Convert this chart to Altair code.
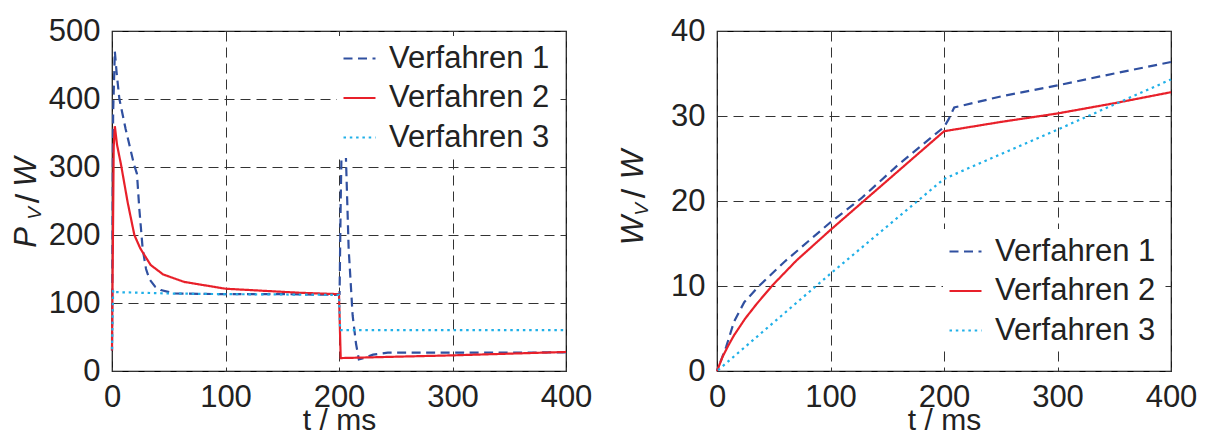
import altair as alt
import pandas as pd

FONT = "Liberation Sans"
NAMES = ["Verfahren 1", "Verfahren 2", "Verfahren 3"]
COLORS = ["#3050a0", "#e8202a", "#20b0e8"]
DASHES = [[9, 5.5], [1, 0], [2.5, 3.8]]

# ---- left panel: P_V / W over t / ms ----
t1 = [0, 1, 2.5, 4, 6.5, 12, 19.5, 22, 24, 27, 30, 33, 38, 43, 55, 100, 150, 199.5,
      200.5, 201.5, 202.5, 203.5, 205, 206, 208.5, 212, 215, 217.5, 222, 230, 243, 300, 350, 400]
p1 = [30, 380, 470, 440, 400, 356, 303, 290, 240, 180, 150, 135, 124, 119, 114, 113, 113, 112,
      113, 250, 350, 372, 370, 320, 180, 82, 40, 17, 19, 24, 27, 27, 27, 27.5]
t2 = [0, 1.5, 2.5, 4.4, 8, 13.8, 19.7, 25, 34, 45, 63.6, 100, 166, 200, 201.5, 250, 300, 350, 400]
p2 = [30, 330, 360, 333, 303, 248, 200, 180, 156, 142, 131, 121, 115, 113, 19, 21, 23, 25.5, 28]
t3 = [0, 1, 3, 50, 100, 200, 201, 400]
p3 = [30, 119, 116, 114, 113, 112, 60, 60]

# ---- right panel: W_V / W over t / ms ----
tw1 = [0, 8, 15, 24, 37, 59, 100, 127, 160, 200, 204, 209, 250, 300, 350, 400]
w1 = [0, 2.8, 5.8, 8.1, 10, 12.8, 17.5, 20.3, 24.3, 28.7, 29.6, 31.0, 32.3, 33.6, 35.0, 36.35]
tw2 = [0, 5, 10, 15, 25, 35, 49, 70, 100, 150, 200, 202, 250, 300, 350, 400]
w2 = [0, 1.7, 3.0, 4.2, 6.2, 7.9, 10.1, 13.0, 16.6, 22.4, 28.2, 28.25, 29.3, 30.3, 31.5, 32.8]
tw3 = [0, 100, 200, 300, 400]
w3 = [0, 11.45, 22.6, 28.4, 34.3]

X_TICKS = [0, 100, 200, 300, 400]
P_TICKS = [0, 100, 200, 300, 400, 500]
W_TICKS = [0, 10, 20, 30, 40]


def long_df(series):
    rows = []
    for name, ts, vs in series:
        for i, (t, v) in enumerate(zip(ts, vs)):
            rows.append({"t": t, "v": v, "s": name, "i": i})
    return pd.DataFrame(rows)


df_p = long_df([(NAMES[0], t1, p1), (NAMES[1], t2, p2), (NAMES[2], t3, p3)])
df_w = long_df([(NAMES[0], tw1, w1), (NAMES[1], tw2, w2), (NAMES[2], tw3, w3)])


def legend(lx, ly):
    return alt.Legend(orient="none", legendX=lx, legendY=ly, title=None,
                      fillColor="white", padding=5, labelFont=FONT, labelFontSize=31,
                      labelColor="#222", symbolType="stroke", symbolSize=1024,
                      symbolStrokeWidth=2.2, rowPadding=6.5, labelOffset=12,
                      labelLimit=400)


def title_text(txt, x, y, size, italic=True):
    return alt.Chart(pd.DataFrame({"a": [0]})).mark_text(
        angle=270, align="center", baseline="alphabetic", font=FONT,
        fontSize=size, fontStyle="italic" if italic else "normal", color="#222"
    ).encode(x=alt.value(x), y=alt.value(y), text=alt.value(txt))


AXIS_STYLE = dict(labelFont=FONT, labelFontSize=31, labelColor="#222",
                  titleFont=FONT, titleFontSize=30, titleFontWeight="normal",
                  titleColor="#222", grid=True, gridColor="#333", gridDash=[10, 6],
                  gridWidth=1, gridOpacity=1, domain=False, ticks=False,
                  labelOverlap=False, labelFlush=False)


def panel(df, ymax, yticks, lx, ly, title_parts):
    lines = alt.Chart(df).mark_line(strokeWidth=2.2, strokeDashOffset=5).encode(
        x=alt.X("t:Q", scale=alt.Scale(domain=[0, 400], nice=False, zero=False),
                axis=alt.Axis(values=X_TICKS, title="t / ms", labelPadding=11,
                              titlePadding=-7, format="d", **AXIS_STYLE)),
        y=alt.Y("v:Q", scale=alt.Scale(domain=[0, ymax], nice=False),
                axis=alt.Axis(values=yticks, title=None, labelPadding=12, format="d",
                              **AXIS_STYLE)),
        color=alt.Color("s:N", scale=alt.Scale(domain=NAMES, range=COLORS),
                        legend=legend(lx, ly)),
        strokeDash=alt.StrokeDash("s:N", scale=alt.Scale(domain=NAMES, range=DASHES),
                                  legend=legend(lx, ly)),
        order="i:Q",
    )
    texts = [title_text(*p) for p in title_parts]
    return alt.layer(lines, *texts).properties(width=454, height=340)


left = panel(df_p, 500, P_TICKS, 225, 5, [
    ("P", -76, 206.5, 31), ("V", -71, 182.5, 19), ("/", -73, 167.5, 34, False),
    ("W", -76, 141, 31)])
right = panel(df_w, 40, W_TICKS, 226, 198, [
    ("W", -74, 199.5, 31), ("V", -69, 178.5, 19), ("/", -72, 162.5, 34, False),
    ("W", -74, 133.5, 31)])

chart = alt.hconcat(left, right, spacing=151, bounds="flush").resolve_scale(
    color="independent", strokeDash="independent"
).resolve_legend(
    color="independent", strokeDash="independent"
).properties(
    padding={"left": 10, "top": 14, "right": 5, "bottom": 0}, background="white"
).configure_view(stroke="black", strokeWidth=1.2)

chart.save("out.html", embed_options={"renderer": "svg", "actions": False})
